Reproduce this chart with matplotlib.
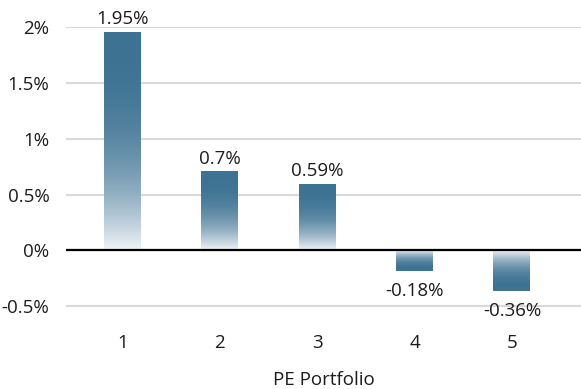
import numpy as np
import matplotlib
matplotlib.use("Agg")
import matplotlib.pyplot as plt
from matplotlib.colors import LinearSegmentedColormap, to_rgb
from matplotlib.ticker import FuncFormatter

plt.rcParams['font.family'] = ['Open Sans', 'DejaVu Sans']

portfolios = ["1", "2", "3", "4", "5"]
returns = [1.95, 0.70, 0.59, -0.18, -0.36]
value_labels = ["1.95%", "0.7%", "0.59%", "-0.18%", "-0.36%"]
y_ticks = [-0.5, 0, 0.5, 1, 1.5, 2]

# pale at the zero line, easing into the dark teal-blue at the bar's end
dark = np.array(to_rgb("#3d7292"))
pale = np.array(to_rgb("#f1f4f8"))
ts = np.linspace(0, 1, 64)
ease = 1 - (1 - ts) ** 2.5
cmap = LinearSegmentedColormap.from_list(
    "fade", [(t, tuple(pale + (dark - pale) * e)) for t, e in zip(ts, ease)])

fig = plt.figure(figsize=(5.81, 3.89), dpi=100)
ax = fig.add_axes([66 / 581, 1 - 322 / 389, 515 / 581, (322 - 27) / 389])

x = np.arange(1, len(portfolios) + 1)
width = 0.38
grad = np.linspace(0, 1, 256).reshape(-1, 1)
fs = 13.5
txt = '#1c1c1c'

for xi, v, lab in zip(x, returns, value_labels):
    img = grad if v >= 0 else grad[::-1]
    bottom, top = (0, v) if v >= 0 else (v, 0)
    ax.imshow(img, cmap=cmap, aspect='auto', origin='lower',
              extent=(xi - width / 2, xi + width / 2, bottom, top),
              zorder=2, interpolation='bilinear')
    if v >= 0:
        ax.annotate(lab, (xi, v), xytext=(0, 3), textcoords='offset points',
                    ha='center', va='bottom', fontsize=fs, color=txt)
    else:
        ax.annotate(lab, (xi, v), xytext=(0, -8), textcoords='offset points',
                    ha='center', va='top', fontsize=fs, color=txt)

ax.set_xlim(0.42, 5.71)
ax.set_ylim(-0.64, 2.0)
ax.set_yticks(y_ticks)
ax.yaxis.set_major_formatter(FuncFormatter(lambda v, p: f"{v:g}%"))
ax.set_xticks(x)
ax.set_xticklabels(portfolios)
ax.grid(axis='y', color='#d9d9d9', linewidth=1.5, zorder=0)
ax.axhline(0, color='black', linewidth=1.6, zorder=3)
for s in ax.spines.values():
    s.set_visible(False)
ax.tick_params(axis='both', length=0, labelsize=fs, colors=txt)
ax.tick_params(axis='y', pad=12)
ax.tick_params(axis='x', pad=9)
ax.set_xlabel("PE Portfolio", fontsize=fs, color=txt, labelpad=13)

fig.savefig("out.png", dpi=100)
